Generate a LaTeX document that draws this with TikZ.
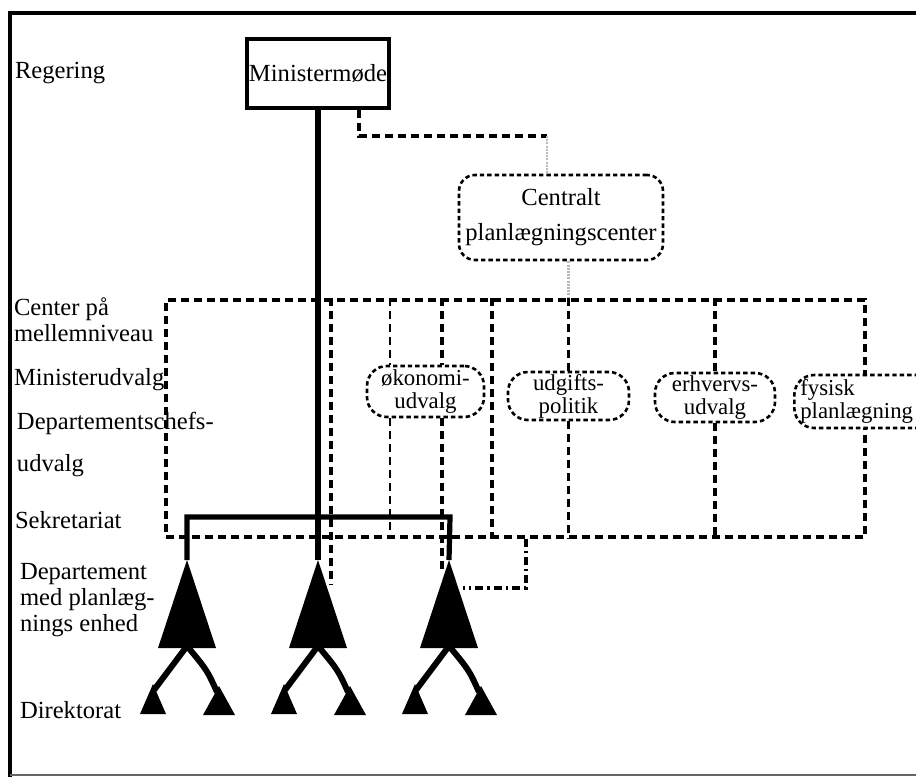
\documentclass[tikz,border=0pt]{standalone}
\usepackage{fontspec}
\setmainfont{Liberation Serif}
\usetikzlibrary{positioning}
\newcommand{\lblfont}{\fontsize{12.3}{13}\selectfont}
\newcommand{\boxfont}{\fontsize{11.4}{11.4}\selectfont}
\tikzset{every picture/.style={line width=1pt},
  lbl/.style={anchor=west,inner sep=0pt,align=left,font=\lblfont},
  trunk/.style={line width=2.6pt},
  branch/.style={line width=3pt},
  frame/.style={line width=2.2pt},
  dline/.style={line width=1.6pt,dash pattern=on 4pt off 2.5pt},
  thinline/.style={line width=0.7pt,dash pattern=on 4pt off 2.5pt},
  ddot/.style={line width=1.6pt,dash pattern=on 4pt off 2pt on 1.2pt off 2pt},
  grayline/.style={line width=1.2pt,gray!55,dash pattern=on 1pt off 0.6pt},
  udvalg/.style={draw,fill=white,rounded corners=10pt,line width=1.3pt,dash pattern=on 2.2pt off 1.5pt,inner sep=0pt,align=center,font=\boxfont}}
\begin{document}
\begin{tikzpicture}[x=0.5pt,y=-0.5pt]
\useasboundingbox (0,0) rectangle (916,777);

% ramme
\draw[frame] (920,13) -- (10,13) -- (10,777);
\draw[line width=1pt,black!60] (10,775) -- (916,775);

% niveauer
\node[lbl] (reg) at (14,73) {Regering};
\node[lbl] (cpaa) at (13,320) {Center på\\mellemniveau};
\node[lbl] (minu) at (13,380) {Ministerudvalg};
\node[lbl] (dcu) at (16,444) {Departementschefs-\\[8pt]udvalg};
\node[lbl] (sek) at (14,520) {Sekretariat};
\node[lbl] (dep) at (19,600) {Departement\\med planlæg-\\nings enhed};
\node[lbl] (dir) at (19,710) {Direktorat};

% mellemniveau
\node[draw,dline,minimum width=349.5pt,minimum height=118.5pt,inner sep=0pt] (midlvl) at (515.5,418.5) {};

\node[draw,fill=white,line width=2pt,minimum width=71pt,minimum height=34.5pt,inner sep=0pt,font=\lblfont] (mm) at (318,73.5) {Ministermøde};
\node[udvalg,font=\lblfont,minimum width=102pt,minimum height=42.5pt,rounded corners=8pt] (cpc) at (561,217.5) {Centralt\\[4.5pt]planlægningscenter};

\coordinate (mmc) at (359,136);
\coordinate (cpk) at (547,136);
\draw[dline] (mm.south -| mmc) -- (mmc) -- (cpk);
\draw[grayline] (cpk) -- (cpk |- cpc.north);

\node[udvalg,minimum width=58.5pt,minimum height=25.5pt] (oek) at (425.5,391.5) {økonomi-\\udvalg};
\node[udvalg,minimum width=60.5pt,minimum height=24pt] (udg) at (568.5,396) {udgifts-\\politik};
\node[udvalg,minimum width=60pt,minimum height=24.5pt] (erh) at (715,397.5) {erhvervs-\\udvalg};
\node[udvalg,anchor=west,align=left,text width=70pt,inner xsep=3pt,minimum height=26.5pt] (fys) at (793,401.5) {fysisk\\planlægning};

\draw[grayline] (udg.north |- cpc.south) -- (udg.north |- midlvl.north);

% forbindelser i mellemniveauet
\coordinate (kb) at (331,585);
\coordinate (oekl) at (390,391);
\coordinate (kc) at (442,570);
\coordinate (sep) at (492,400);
\coordinate (dd) at (526,588);
\coordinate (ddc) at (463,588);
\draw[dline] (kb |- midlvl.north) -- (kb);
\draw[thinline] (oekl |- midlvl.north) -- (oekl |- oek.north);
\draw[thinline] (oekl |- oek.south) -- (oekl |- midlvl.south);
\draw[dline] (kc |- midlvl.north) -- (kc |- oek.north);
\draw[dline] (kc |- oek.south) -- (kc);
\draw[dline] (sep |- midlvl.north) -- (sep |- midlvl.south);
\draw[dline] (udg.north |- midlvl.north) -- (udg.north);
\draw[dline] (udg.south) -- (udg.south |- midlvl.south);
\draw[dline] (erh.north |- midlvl.north) -- (erh.north);
\draw[dline] (erh.south) -- (erh.south |- midlvl.south);
\draw[ddot] (dd |- midlvl.south) -- (dd) -- (ddc);

% departementer og direktorater
\foreach \cx/\nm in {187/a,318/b,449/c}{
  \coordinate (dep\nm) at (\cx,560);
  \fill (dep\nm) -- ++(-29,88) -- ++(58,0) -- cycle;
  \draw[branch] (\cx,646) -- (\cx-33,690);
  \draw[branch] (\cx,646) .. controls (\cx+20,670) .. (\cx+30,692);
  \fill (\cx-34,684) -- ++(-13,30) -- ++(26,0) -- cycle;
  \fill (\cx+32,686) -- ++(-16,29) -- ++(32,0) -- cycle;
}
\coordinate (barr) at (450,517);
\draw[trunk] (mm.south) -- (depb);
\draw[trunk,line join=miter] (depa) |- (barr) -- (depc);

\end{tikzpicture}
\end{document}
